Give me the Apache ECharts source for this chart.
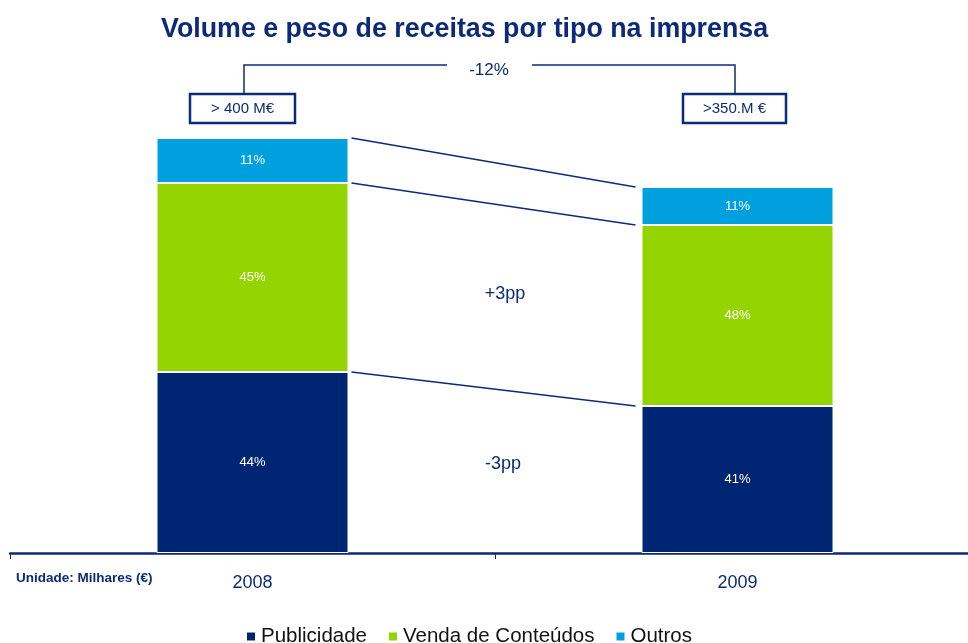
<!DOCTYPE html>
<html><head><meta charset="utf-8">
<script src="https://cdn.jsdelivr.net/npm/echarts/dist/echarts.min.js"></script>
<style>html,body{margin:0;padding:0;background:#fff}#c{width:968px;height:643px}</style>
</head><body><div id="c"></div>
<script>
// ---- data (M€) ----
const categories = ['2008', '2009'];
const publicidade = [181, 147];
const vendaConteudos = [189, 181];
const outros = [45, 38];
const pubLabels = ['44%', '41%'];
const vendaLabels = ['45%', '48%'];
const outrosLabels = ['11%', '11%'];
const totalLabels = ['> 400 M€', '>350.M €'];
const changeLabel = '-12%';
const ppLabels = ['+3pp', '-3pp'];
const seriesNames = ['Publicidade', 'Venda de Conteúdos', 'Outros'];
const unitLabel = 'Unidade: Milhares (€)';
const titleText = 'Volume e peso de receitas por tipo na imprensa';

// ---- styles ----
const NAVY = '#0c2a78';
const C_PUB = '#002673';
const C_VEN = '#94d400';
const C_OUT = '#00a0df';
const FONT = '"Liberation Sans", Arial, Helvetica, sans-serif';
const BAR_W = 192;

const bound1 = publicidade;
const bound2 = publicidade.map((v, i) => v + vendaConteudos[i]);
const bound3 = bound2.map((v, i) => v + outros[i]);
const connectors = [
  [0, bound1[0], bound1[1]],
  [0, bound2[0], bound2[1]],
  [0, bound3[0], bound3[1]]
];

function mkLabel(arr) {
  return {
    show: true, position: 'inside', color: '#ffffff', fontSize: 13, fontFamily: FONT,
    formatter: p => arr[p.dataIndex]
  };
}

const chart = echarts.init(document.getElementById('c'), null, {renderer: 'canvas'});
chart.setOption({
  animation: false,
  backgroundColor: '#ffffff',
  textStyle: {fontFamily: FONT},
  title: {
    text: titleText, left: 156, top: 11,
    textStyle: {color: NAVY, fontSize: 26.8, fontWeight: 'bold', fontFamily: FONT}
  },
  legend: {
    data: seriesNames, left: 240, top: 621,
    itemWidth: 10, itemHeight: 10, itemGap: 20,
    icon: 'rect',
    textStyle: {color: '#111111', fontSize: 20.5, fontFamily: FONT}
  },
  grid: {left: 10, top: 103, width: 970, height: 450, containLabel: false, outerBoundsMode: 'none'},
  xAxis: {
    type: 'category', data: categories,
    axisLine: {lineStyle: {color: NAVY, width: 2.5}},
    axisTick: {show: true, length: 6, lineStyle: {color: NAVY, width: 1}},
    axisLabel: {color: NAVY, fontSize: 18, margin: 21, fontFamily: FONT}
  },
  yAxis: {type: 'value', min: 0, max: 450, show: false, splitLine: {show: false}},
  series: [
    {name: seriesNames[0], type: 'bar', stack: 't', barWidth: BAR_W, data: publicidade,
     itemStyle: {color: C_PUB, borderColor: '#ffffff', borderWidth: 1}, label: mkLabel(pubLabels)},
    {name: seriesNames[1], type: 'bar', stack: 't', barWidth: BAR_W, data: vendaConteudos,
     itemStyle: {color: C_VEN, borderColor: '#ffffff', borderWidth: 1}, label: mkLabel(vendaLabels)},
    {name: seriesNames[2], type: 'bar', stack: 't', barWidth: BAR_W, data: outros,
     itemStyle: {color: C_OUT, borderColor: '#ffffff', borderWidth: 1}, label: mkLabel(outrosLabels)},
    {type: 'custom', name: 'conn', data: connectors, encode: {x: 0, y: 1}, silent: true, z: 5,
     renderItem: function (params, api) {
       const a = api.coord([0, api.value(1)]);
       const b = api.coord([1, api.value(2)]);
       const hw = BAR_W / 2;
       return {type: 'line',
         shape: {x1: a[0] + hw + 3, y1: a[1], x2: b[0] - hw - 6, y2: b[1]},
         style: {stroke: NAVY, lineWidth: 1.3}};
     }}
  ],
  graphic: [
    {type: 'polyline', shape: {points: [[244, 93], [244, 65], [447, 65]]}, style: {stroke: NAVY, lineWidth: 1.5, fill: null}},
    {type: 'polyline', shape: {points: [[532, 65], [735, 65], [735, 93]]}, style: {stroke: NAVY, lineWidth: 1.5, fill: null}},
    {type: 'text', x: 489, y: 70, style: {text: changeLabel, align: 'center', verticalAlign: 'middle', fill: NAVY, fontSize: 17, fontFamily: FONT}},
    {type: 'rect', shape: {x: 190, y: 94, width: 105, height: 29}, style: {stroke: NAVY, lineWidth: 2.5, fill: '#ffffff'}},
    {type: 'text', x: 242.5, y: 109, style: {text: totalLabels[0], align: 'center', verticalAlign: 'middle', fill: NAVY, fontSize: 15, fontFamily: FONT}},
    {type: 'rect', shape: {x: 683, y: 94, width: 103, height: 29}, style: {stroke: NAVY, lineWidth: 2.5, fill: '#ffffff'}},
    {type: 'text', x: 734.5, y: 109, style: {text: totalLabels[1], align: 'center', verticalAlign: 'middle', fill: NAVY, fontSize: 15, fontFamily: FONT}},
    {type: 'text', x: 505, y: 294, style: {text: ppLabels[0], align: 'center', verticalAlign: 'middle', fill: NAVY, fontSize: 18, fontFamily: FONT}},
    {type: 'text', x: 503, y: 464, style: {text: ppLabels[1], align: 'center', verticalAlign: 'middle', fill: NAVY, fontSize: 18, fontFamily: FONT}},
    {type: 'text', x: 16, y: 578, style: {text: unitLabel, align: 'left', verticalAlign: 'middle', fill: NAVY, fontSize: 13.5, fontWeight: 'bold', fontFamily: FONT}}
  ]
});
</script>
</body></html>
